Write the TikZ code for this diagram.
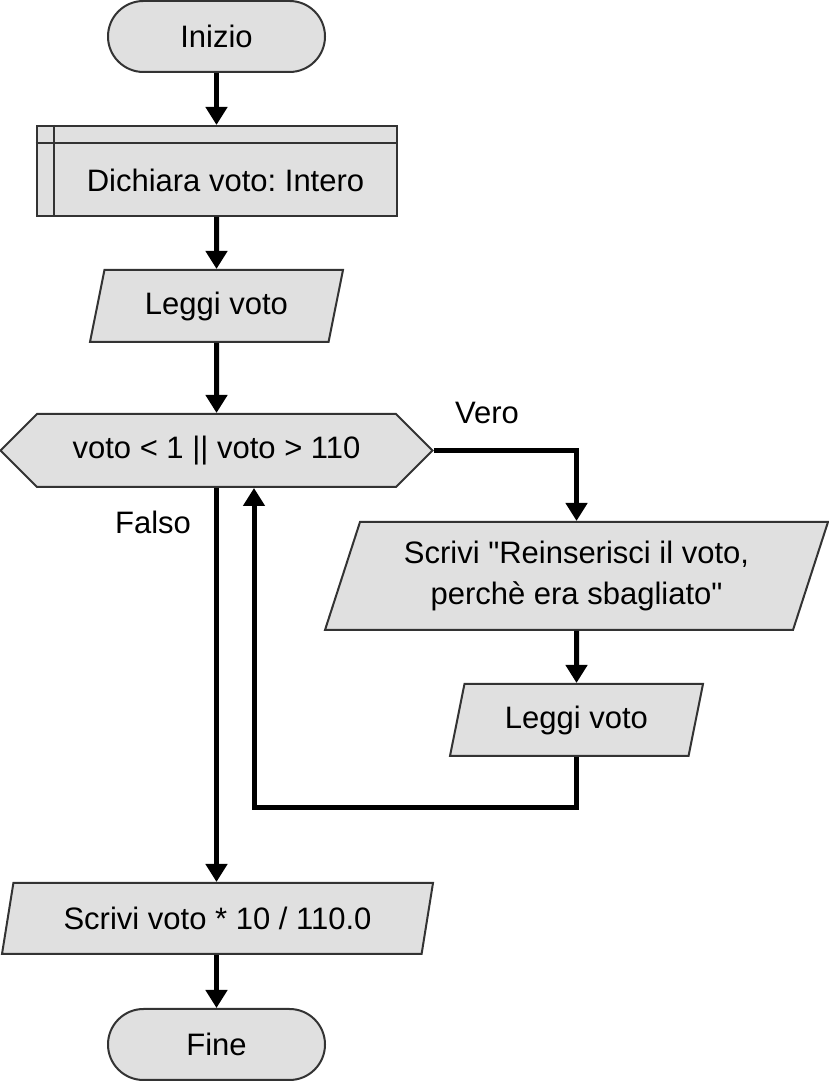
\documentclass[tikz,border=0pt]{standalone}
\usepackage{fontspec}
\setmainfont{Liberation Sans}
\frenchspacing
\usetikzlibrary{arrows.meta,shapes.geometric,shapes.symbols}
\definecolor{boxfill}{HTML}{E0E0E0}
\definecolor{boxline}{HTML}{333333}
\tikzset{
  base/.style={draw=boxline,fill=boxfill,line width=1pt,inner sep=0pt,font=\fontsize{15.5}{20.5}\selectfont,align=center},
  term/.style={base,rectangle,rounded corners=17.75pt,minimum width=108.5pt,minimum height=35.5pt},
  subr/.style={base,rectangle,minimum width=180pt,minimum height=45pt},
  iobox/.style={base,trapezium,trapezium left angle=63.4,trapezium right angle=116.6,trapezium stretches body=true,minimum width=126.5pt,minimum height=36pt},
  cond/.style={base,signal,signal to=west and east,signal pointer angle=90,minimum width=216pt,minimum height=36.5pt},
  flow/.style={line width=2.5pt,-{Triangle[width=10.5pt,length=9pt]}},
  lbl/.style={font=\fontsize{15.5}{20.5}\selectfont}
}
\begin{document}
\begin{tikzpicture}[x=0.5pt,y=0.5pt]
	\useasboundingbox (0,0) rectangle (829,1081);
	\node[term] (start) at (216.5,1044.5) {Inizio};
	\node[subr] (dich) at (216.5,910) {};
	\draw[boxline,line width=1pt] ([xshift=9pt]dich.north west) -- ([xshift=9pt]dich.south west);
	\draw[boxline,line width=1pt] ([yshift=-9pt]dich.north west) -- ([yshift=-9pt]dich.north east);
	\node[lbl] (dichtxt) at ([shift={(4.5pt,-4.5pt)}]dich.center) {Dichiara voto: Intero};
	\node[iobox] (read) at (216.5,775) {Leggi voto};
	\node[cond] (check) at (216.5,630.5) {voto < 1 || voto > 110};
	\node[iobox,minimum width=251.5pt,minimum height=54pt] (msg) at (576.5,505) {Scrivi \textquotedbl Reinserisci il voto,\\perchè era sbagliato\textquotedbl};
	\node[iobox] (reread) at (576.5,361) {Leggi voto};
	\node[iobox,minimum width=215.5pt,minimum height=35.5pt] (out) at (217.5,162.5) {Scrivi voto * 10 / 110.0};
	\node[term] (stop) at (216.5,36.5) {Fine};
	\node[lbl] (vero) at (487,668) {Vero};
	\node[lbl] (falso) at (153,559) {Falso};
	\coordinate (back) at (254,273);
	\draw[flow] (start) -- (dich);
	\draw[flow] (dich) -- (read);
	\draw[flow] (read) -- (check);
	\draw[flow] (check.east) -| (msg.north);
	\draw[flow] (msg.south) -- (reread.north);
	\draw[flow] (reread.south) |- (back) -- (back |- check.south);
	\draw[flow] (check.south) -- (check.south |- out.north);
	\draw[flow] (out.south -| stop.north) -- (stop.north);
\end{tikzpicture}
\end{document}
